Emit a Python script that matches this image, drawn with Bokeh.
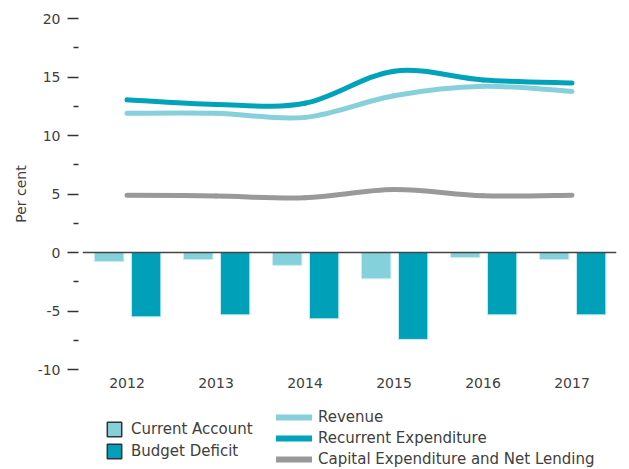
from bokeh.plotting import figure
from bokeh.layouts import column
from bokeh.models import (Range1d, FixedTicker, Span, Legend, LegendItem, ColumnDataSource, Dodge)
from bokeh.embed import file_html
from bokeh.resources import INLINE

# ---- data ----
years = ["2012", "2013", "2014", "2015", "2016", "2017"]
current_account = [-0.77, -0.6, -1.1, -2.25, -0.43, -0.6]
budget_deficit = [-5.5, -5.33, -5.67, -7.43, -5.33, -5.33]
revenue = [11.9, 11.9, 11.55, 13.4, 14.2, 13.77]
recurrent_exp = [13.05, 12.65, 12.75, 15.5, 14.75, 14.48]
capital_exp = [4.9, 4.83, 4.68, 5.38, 4.85, 4.9]
y_ticks = [-10, -5, 0, 5, 10, 15, 20]
y_tick_labels = ["-10", "-5", "0", "5", "10", "15", "20"]
y_minor_ticks = [-7.5, -2.5, 2.5, 7.5, 12.5, 17.5]

C_CA = "#84D0DB"
C_BD = "#00A0B8"
C_REV = "#86D0DB"
C_REC = "#00A3BA"
C_CAP = "#999999"
TXT = "#404040"
FONT = "DejaVu Sans"
FS = "14px"
FS_LEG = "15px"

x_idx = list(range(len(years)))

p = figure(width=621, height=402, output_backend="svg", toolbar_location=None,
           x_range=Range1d(-0.5, len(years) - 0.5), y_range=Range1d(-10, 20),
           min_border_left=82, min_border_right=5, min_border_top=18, min_border_bottom=33)
p.outline_line_color = None
p.grid.grid_line_color = None
p.background_fill_color = None
p.border_fill_color = "white"

# bars
src = ColumnDataSource(dict(x=x_idx, ca=current_account, bd=budget_deficit))
p.vbar(x={"field": "x", "transform": Dodge(value=-0.2)},
       top="ca", bottom=0, width=0.33, source=src, fill_color=C_CA, line_color="#c9edf2", line_width=1)
p.vbar(x={"field": "x", "transform": Dodge(value=0.215)},
       top="bd", bottom=0, width=0.33, source=src, fill_color=C_BD, line_color="#c9edf2", line_width=1)

p.add_layout(Span(location=0, dimension="width", line_color="#444444", line_width=1.5))


# smooth lines via cubic bezier segments (Catmull-Rom style control points)
def smooth(vals, color):
    n = len(vals)
    xs = x_idx
    d = dict(x0=[], y0=[], x1=[], y1=[], cx0=[], cy0=[], cx1=[], cy1=[])
    for i in range(n - 1):
        xa, ya = xs[i], vals[i]
        xb, yb = xs[i + 1], vals[i + 1]
        xp, yp = (xs[i - 1], vals[i - 1]) if i > 0 else (xa, ya)
        xn, yn = (xs[i + 2], vals[i + 2]) if i + 2 < n else (xb, yb)
        t = 1 / 6
        d["x0"].append(xa); d["y0"].append(ya)
        d["x1"].append(xb); d["y1"].append(yb)
        d["cx0"].append(xa + (xb - xp) * t); d["cy0"].append(ya + (yb - yp) * t)
        d["cx1"].append(xb - (xn - xa) * t); d["cy1"].append(yb - (yn - ya) * t)
    p.bezier(source=ColumnDataSource(d), x0="x0", y0="y0", x1="x1", y1="y1",
             cx0="cx0", cy0="cy0", cx1="cx1", cy1="cy1",
             line_color=color, line_width=5, line_cap="round")


smooth(capital_exp, C_CAP)
smooth(revenue, C_REV)
smooth(recurrent_exp, C_REC)

# axes
p.xaxis.ticker = FixedTicker(ticks=x_idx)
p.xaxis.major_label_overrides = {i: y for i, y in enumerate(years)}
p.xaxis.axis_line_color = None
p.xaxis.major_tick_line_color = None
p.xaxis.minor_tick_line_color = None
p.xaxis.major_tick_out = 0
p.xaxis.major_tick_in = 0
p.xaxis.major_label_standoff = 8
p.xaxis.major_label_text_font = FONT
p.xaxis.major_label_text_font_size = FS
p.xaxis.major_label_text_color = TXT

p.yaxis.ticker = FixedTicker(ticks=y_ticks, minor_ticks=y_minor_ticks)
p.yaxis.major_label_overrides = {t: s for t, s in zip(y_ticks, y_tick_labels)}
p.yaxis.axis_line_color = None
p.yaxis.major_tick_in = -4
p.yaxis.major_tick_out = 15
p.yaxis.minor_tick_in = -4
p.yaxis.minor_tick_out = 9
p.yaxis.major_tick_line_color = "#333333"
p.yaxis.minor_tick_line_color = "#333333"
p.yaxis.major_tick_line_width = 1.5
p.yaxis.minor_tick_line_width = 1.5
p.yaxis.major_label_standoff = 7
p.yaxis.major_label_text_font = FONT
p.yaxis.major_label_text_font_size = FS
p.yaxis.major_label_text_color = TXT
p.yaxis.axis_label = "Per cent"
p.yaxis.axis_label_text_font = FONT
p.yaxis.axis_label_text_font_size = FS
p.yaxis.axis_label_text_font_style = "normal"
p.yaxis.axis_label_text_color = TXT
p.yaxis.axis_label_standoff = 6

# ---- legend figure (its frame is aligned with the main frame by the column layout) ----
lf = figure(width=621, height=66, output_backend="svg", toolbar_location=None,
            x_axis_type=None, y_axis_type=None, x_range=Range1d(0, 1), y_range=Range1d(0, 1),
            min_border_left=0, min_border_right=0, min_border_top=0, min_border_bottom=0)
lf.outline_line_color = None
lf.grid.grid_line_color = None
lf.background_fill_color = None

# legend swatches: data placed outside the visible range so only the legend shows them
g_ca = lf.quad(left=[5], right=[6], top=[6], bottom=[5], fill_color=C_CA, line_color="#333333", line_width=1.5)
g_bd = lf.quad(left=[5], right=[6], top=[6], bottom=[5], fill_color=C_BD, line_color="#333333", line_width=1.5)
g_rev = lf.line(x=[5, 6], y=[5, 5], line_color=C_REV, line_width=6, line_cap="round")
g_rec = lf.line(x=[5, 6], y=[5, 5], line_color=C_REC, line_width=6, line_cap="round")
g_cap = lf.line(x=[5, 6], y=[5, 5], line_color=C_CAP, line_width=6, line_cap="round")


def mk_legend(items, loc, gw, gh, lh, sp, so):
    return Legend(items=items, location=loc, orientation="vertical",
                  border_line_color=None, background_fill_alpha=0,
                  padding=0, margin=0, spacing=sp,
                  glyph_width=gw, glyph_height=gh, label_height=lh,
                  label_standoff=so, label_text_font=FONT,
                  label_text_font_size=FS_LEG, label_text_color=TXT)


leg1 = mk_legend([LegendItem(label="Current Account", renderers=[g_ca]),
                  LegendItem(label="Budget Deficit", renderers=[g_bd])], (23, 8), 18, 18, 18, 4, 8)
leg2 = mk_legend([LegendItem(label="Revenue", renderers=[g_rev]),
                  LegendItem(label="Recurrent Expenditure", renderers=[g_rec]),
                  LegendItem(label="Capital Expenditure and Net Lending", renderers=[g_cap])],
                 (194, 0), 36, 14, 18, 3, 6)
lf.add_layout(leg1)
lf.add_layout(leg2)

layout = column(p, lf, spacing=0)
open("out.html", "w").write(file_html(layout, INLINE))
